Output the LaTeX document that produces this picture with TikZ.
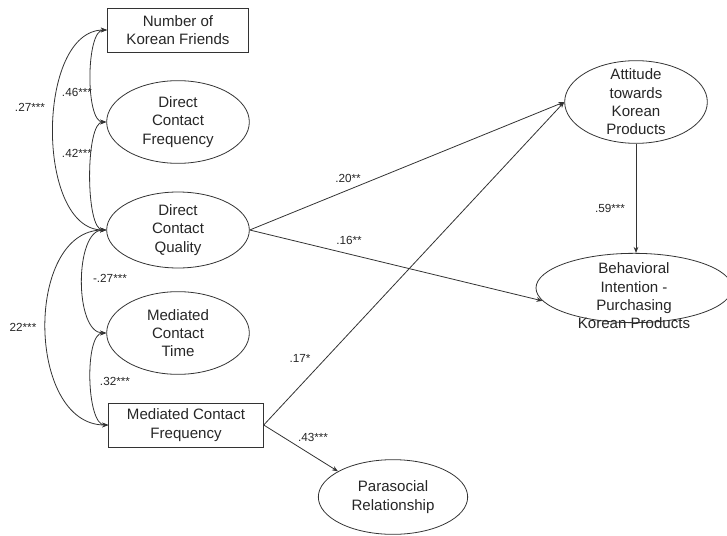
\documentclass[tikz,border=0pt]{standalone}
\usepackage{fontspec}
\setmainfont{Liberation Sans}
\usetikzlibrary{shapes,arrows.meta,positioning}

\begin{document}
\begin{tikzpicture}[x=0.75pt, y=-0.75pt,
      font=\fontsize{11.3}{13.7}\selectfont, text=black!85,
      obs/.style={draw=black!80, line width=0.6pt, rectangle, align=center,
        inner sep=0pt, minimum height=33pt},
      lat/.style={draw=black!80, line width=0.6pt, ellipse, align=center,
        inner sep=0pt, minimum width=107pt, minimum height=62pt},
      txt/.style={align=center, inner sep=0pt},
      coef/.style={font=\fontsize{8.8}{10}\selectfont, inner sep=0pt},
      path/.style={draw=black!80, line width=0.6pt,
        -{Stealth[length=4.5pt,width=3.5pt]}},
      cov/.style={draw=black!80, line width=0.6pt,
        {Stealth[length=4.5pt,width=3.5pt]}-{Stealth[length=4.5pt,width=3.5pt]}}]
    \useasboundingbox (0,0) rectangle (727,535);
    % predictors
    \node (NKF) [obs, minimum width=106pt] at (178,30) {Number of\\Korean Friends};
    \node (DCF) [lat] at (178,122) {Direct\\Contact\\Frequency};
    \node (DCQ) [lat, minimum height=57pt] at (178,230) {Direct\\Contact\\Quality};
    \node (MCT) [lat] at (178,333) {Mediated\\Contact\\Time};
    \node (MCF) [obs, minimum width=116pt] at (186,425) {Mediated Contact\\Frequency};
    % outcomes
    \node (ATT) [lat] at (636,102) {};
    \node (ATTtxt) [txt] at (ATT) {Attitude\\towards\\Korean\\Products};
    \node (BEH) [lat, minimum width=147pt, minimum height=52pt] at (634,288) {};
    \node (BEHtxt) [txt] at (634,296) {Behavioral\\Intention -\\Purchasing\\Korean Products};
    \node (PSR) [lat, minimum width=112pt, minimum height=56pt] at (393,497) {Parasocial\\Relationship};

    % correlations
    \draw [cov] (NKF.west) .. controls +(-71,0) and +(-71,0) .. (DCQ.west);
    \draw [cov] (NKF.west) .. controls +(-21,0) and +(-21,0) .. (DCF.west);
    \draw [cov] (DCF.west) .. controls +(-21,0) and +(-21,0) .. (DCQ.west);
    \draw [cov] (DCQ.west) .. controls +(-82,0) and +(-82,0) .. (MCF.west);
    \draw [cov] (DCQ.west) .. controls +(-32,0) and +(-32,0) .. (MCT.west);
    \draw [cov] (MCT.west) .. controls +(-22,0) and +(-22,0) .. (MCF.west);
    \node (c27) [coef] at (30,107) {.27***};
    \node (c46) [coef] at (77,92) {.46***};
    \node (c42) [coef] at (77,153) {.42***};
    \node (cm27) [coef] at (110,278) {-.27***};
    \node (c22) [coef] at (23,327) {22***};
    \node (c32) [coef] at (115,381) {.32***};

    % paths
    \draw [path] (DCQ.east) -- (ATT.west);
    \draw [path] (DCQ.east) -- (BEH.188);
    \draw [path] (MCF.east) -- (ATT.west);
    \draw [path] (MCF.east) -- (PSR.155);
    \draw [path] (ATT.south) -- (ATT.south |- BEH.north);
    \node (c20) [coef] at (348,178) {.20**};
    \node (c16) [coef] at (349,240) {.16**};
    \node (c17) [coef] at (300,358) {.17*};
    \node (c43) [coef] at (313,437) {.43***};
    \node (c59) [coef] at (610,208) {.59***};
  \end{tikzpicture}
\end{document}
